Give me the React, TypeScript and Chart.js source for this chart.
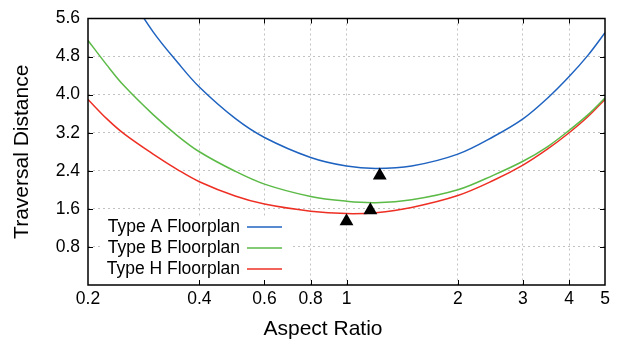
import React, { useEffect, useRef } from 'react';
import { Chart, registerables } from 'chart.js';

Chart.register(...registerables);

// ---- data ----
const aspectRatios = [0.2, 0.225, 0.25, 0.3, 0.35, 0.4, 0.5, 0.6, 0.8, 1, 1.2, 1.5, 2, 2.5, 3, 3.5, 4, 4.5, 5];
const typeA = [7.7, 6.9, 6.27, 5.32, 4.67, 4.16, 3.5, 3.1, 2.68, 2.5, 2.45, 2.5, 2.75, 3.12, 3.49, 3.93, 4.38, 4.83, 5.3];
const typeB = [5.14, 4.62, 4.19, 3.58, 3.13, 2.8, 2.39, 2.12, 1.86, 1.76, 1.73, 1.79, 2.0, 2.31, 2.6, 2.91, 3.25, 3.58, 3.93];
const typeH = [3.9, 3.49, 3.18, 2.75, 2.42, 2.17, 1.87, 1.7, 1.55, 1.5, 1.52, 1.63, 1.88, 2.2, 2.52, 2.86, 3.2, 3.54, 3.9];
const optimumRatios = [1.23, 1.16, 1.0];
const optimumDistances = [2.3, 1.57, 1.34];

const xTickValues = [0.2, 0.4, 0.6, 0.8, 1, 2, 3, 4, 5];
const xTickLabels = ['0.2', '0.4', '0.6', '0.8', '1', '2', '3', '4', '5'];
const yTickValues = [0, 0.8, 1.6, 2.4, 3.2, 4.0, 4.8, 5.6];
const yTickLabels = ['', '0.8', '1.6', '2.4', '3.2', '4.0', '4.8', '5.6'];

const seriesNames = ['Type A Floorplan', 'Type B Floorplan', 'Type H Floorplan'];
const seriesColors = ['#1f63c0', '#5cba47', '#ee2f24'];
const xTitle = 'Aspect Ratio';
const yTitle = 'Traversal Distance';

const FONT = '"Liberation Sans", Arial, Helvetica, sans-serif';
const TICK_SIZE = 17.5;
const TITLE_SIZE = 21;

const keyPlugin = {
  id: 'gnuKey',
  afterDatasetsDraw(chart: any) {
    const { ctx, chartArea: a } = chart;
    ctx.save();
    ctx.fillStyle = '#fff';
    ctx.fillRect(a.left + 12, a.bottom - 69, 190, 66);
    ctx.font = `${TICK_SIZE}px ${FONT}`;
    ctx.textAlign = 'right';
    ctx.textBaseline = 'middle';
    seriesNames.forEach((name, i) => {
      const y = a.bottom - 58 + i * 21;
      ctx.fillStyle = '#000';
      ctx.fillText(name, a.left + 152, y);
      ctx.strokeStyle = seriesColors[i];
      ctx.lineWidth = 1.5;
      ctx.beginPath();
      ctx.moveTo(a.left + 159, y);
      ctx.lineTo(a.left + 194, y);
      ctx.stroke();
    });
    ctx.restore();
  },
};

const framePlugin = {
  id: 'gnuFrame',
  afterDraw(chart: any) {
    const { ctx, chartArea: a, scales } = chart;
    ctx.save();
    ctx.strokeStyle = '#000';
    ctx.lineWidth = 1;
    ctx.beginPath();
    xTickValues.forEach((v) => {
      const px = Math.round(scales.x.getPixelForValue(v)) + 0.5;
      if (px <= a.left + 1 || px >= a.right - 1) return;
      ctx.moveTo(px, a.bottom);
      ctx.lineTo(px, a.bottom - 5);
      ctx.moveTo(px, a.top);
      ctx.lineTo(px, a.top + 5);
    });
    yTickValues.forEach((v) => {
      const py = Math.round(scales.y.getPixelForValue(v)) + 0.5;
      if (py <= a.top + 1 || py >= a.bottom - 1) return;
      ctx.moveTo(a.left, py);
      ctx.lineTo(a.left + 5, py);
      ctx.moveTo(a.right, py);
      ctx.lineTo(a.right - 5, py);
    });
    ctx.stroke();
    ctx.lineWidth = 1.5;
    ctx.strokeRect(a.left, a.top, a.right - a.left, a.bottom - a.top);

    // axis titles
    ctx.fillStyle = '#000';
    ctx.font = `${TITLE_SIZE}px ${FONT}`;
    ctx.textAlign = 'center';
    ctx.textBaseline = 'middle';
    ctx.fillText(xTitle, a.left + 235, a.bottom + 44);
    ctx.translate(22, (a.top + a.bottom) / 2);
    ctx.rotate(-Math.PI / 2);
    ctx.fillText(yTitle, 0, 0);
    ctx.restore();
  },
};

export default function App() {
  const canvasRef = useRef<HTMLCanvasElement | null>(null);

  useEffect(() => {
    if (!canvasRef.current) return;
    const gridColor = (c: any) =>
      c.tick && (c.index === 0 || c.index === c.scale.ticks.length - 1) ? 'rgba(0,0,0,0)' : '#c2c2c2';

    const lineSets = [typeA, typeB, typeH].map((vals, i) => ({
      label: seriesNames[i],
      data: aspectRatios.map((x, j) => ({ x, y: vals[j] })),
      showLine: true,
      borderColor: seriesColors[i],
      backgroundColor: seriesColors[i],
      borderWidth: 1.5,
      pointRadius: 0,
      tension: 0.35,
      fill: false,
      order: 1,
    }));
    const markerSet = {
      label: 'Optimum',
      data: optimumRatios.map((x, i) => ({ x, y: optimumDistances[i] })),
      showLine: false,
      pointStyle: 'triangle',
      pointRadius: 8,
      backgroundColor: '#000',
      borderColor: '#000',
      borderWidth: 0,
      order: 0,
    };

    const chart = new Chart(canvasRef.current, {
      type: 'scatter',
      data: { datasets: [markerSet as any, ...(lineSets as any[])] },
      options: {
        animation: false,
        responsive: false,
        events: [],
        layout: { padding: { left: 0, top: 12, right: 14, bottom: 0 } },
        plugins: { legend: { display: false }, tooltip: { enabled: false } },
        scales: {
          x: {
            type: 'logarithmic',
            min: 0.2,
            max: 5,
            afterBuildTicks: (s: any) => {
              s.ticks = xTickValues.map((value) => ({ value }));
            },
            afterFit: (s: any) => {
              s.height = 63;
            },
            ticks: {
              callback: (_v: any, i: number) => xTickLabels[i],
              color: '#000',
              font: { family: FONT, size: TICK_SIZE },
              padding: 4,
              maxRotation: 0,
              autoSkip: false,
            },
            grid: { color: gridColor, lineWidth: 1, drawTicks: false, tickLength: 0 },
            border: { display: false, dash: [2, 3] },
          },
          y: {
            type: 'linear',
            min: 0,
            max: 5.6,
            afterBuildTicks: (s: any) => {
              s.ticks = yTickValues.map((value) => ({ value }));
            },
            afterFit: (s: any) => {
              s.width = 88;
            },
            ticks: {
              callback: (_v: any, i: number) => yTickLabels[i],
              color: '#000',
              font: { family: FONT, size: TICK_SIZE },
              padding: 8,
            },
            grid: { color: gridColor, lineWidth: 1, drawTicks: false, tickLength: 0 },
            border: { display: false, dash: [2, 3] },
          },
        },
      },
      plugins: [keyPlugin, framePlugin],
    });
    return () => chart.destroy();
  }, []);

  return (
    <div style={{ position: 'fixed', left: 0, top: 0, width: 619, height: 348, background: '#fff' }}>
      <canvas ref={canvasRef} width={619} height={348} style={{ display: 'block' }} />
    </div>
  );
}
